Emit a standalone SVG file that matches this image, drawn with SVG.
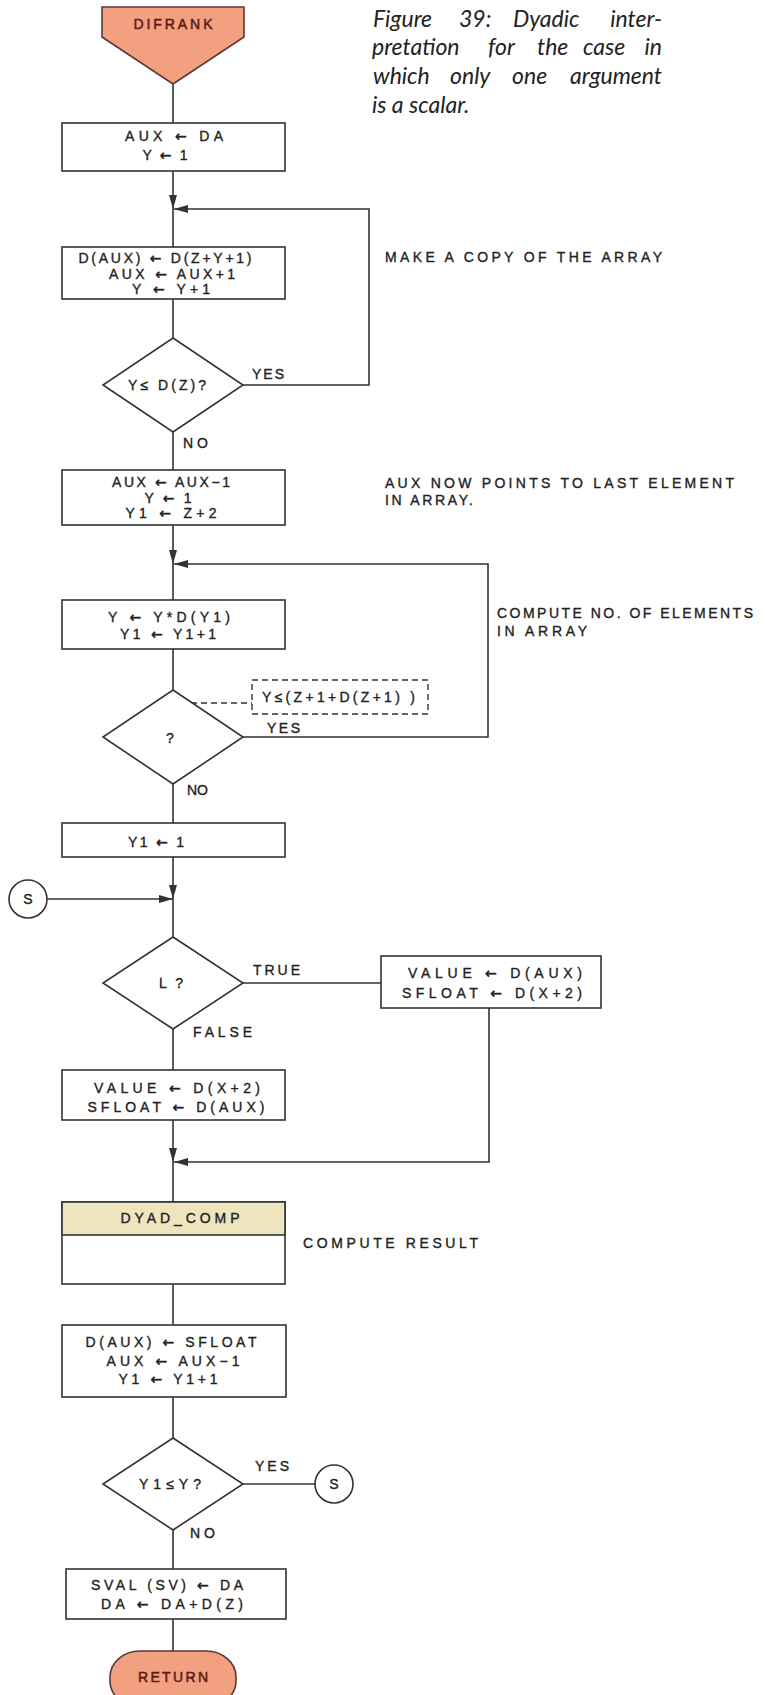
<svg xmlns="http://www.w3.org/2000/svg" width="765" height="1695" viewBox="0 0 765 1695">
<style>
.bg{fill:#ffffff}
.box{fill:#ffffff;stroke:#333;stroke-width:1.6}
.term{fill:#f3a080;stroke:#5a3a30;stroke-width:1.6}
.band{fill:#eee5bd;stroke:#333;stroke-width:1.6}
.ln{fill:none;stroke:#333;stroke-width:1.6}
.dash{fill:none;stroke:#333;stroke-width:1.4;stroke-dasharray:6 4}
.t{font-family:"Liberation Sans",Arial,sans-serif;font-size:14px;fill:#222;stroke:#222;stroke-width:0.35;text-anchor:middle}
.tl{font-family:"Liberation Sans",Arial,sans-serif;font-size:14px;fill:#222;stroke:#222;stroke-width:0.35;text-anchor:start}
.tt{font-family:"Liberation Sans",Arial,sans-serif;font-size:14px;fill:#5a1c16;stroke:#5a1c16;stroke-width:0.5;text-anchor:middle}
.ar{font-family:"DejaVu Sans",sans-serif;font-weight:bold}
.cap{font-family:Lato,"Open Sans",sans-serif;font-style:italic;font-size:23px;fill:#222}
</style>
<defs>
<marker id="ah" viewBox="0 0 14 8" refX="14" refY="4" markerWidth="14" markerHeight="8" markerUnits="userSpaceOnUse" orient="auto">
<path d="M0,0 L14,4 L0,8 z" fill="#333"/>
</marker>
</defs>
<rect class="bg" x="0" y="0" width="765" height="1695"/>

<g id="caption">
<text class="cap" y="27"><tspan x="373">Figure</tspan><tspan x="459">39:</tspan><tspan x="513">Dyadic</tspan><tspan x="662" text-anchor="end">inter-</tspan></text>
<text class="cap" y="55"><tspan x="372">pretation</tspan><tspan x="488">for</tspan><tspan x="537">the</tspan><tspan x="583">case</tspan><tspan x="662" text-anchor="end">in</tspan></text>
<text class="cap" y="84"><tspan x="373">which</tspan><tspan x="450">only</tspan><tspan x="512">one</tspan><tspan x="662" text-anchor="end">argument</tspan></text>
<text class="cap" y="113" x="372">is a scalar.</text>
</g>

<g id="connectors">
<path class="ln" d="M173,82 V123"/>
<path class="ln" d="M173,171 V209" marker-end="url(#ah)"/>
<path class="ln" d="M243,385 H369 V209 H174" marker-end="url(#ah)"/>
<path class="ln" d="M173,209 V247"/>
<path class="ln" d="M173,299 V338"/>
<path class="ln" d="M173,432 V470"/>
<path class="ln" d="M173,525 V564" marker-end="url(#ah)"/>
<path class="ln" d="M243,737 H488 V564 H174" marker-end="url(#ah)"/>
<path class="ln" d="M173,564 V600"/>
<path class="ln" d="M173,649 V690"/>
<path class="dash" d="M191,703 H252"/>
<path class="ln" d="M173,784 V823"/>
<path class="ln" d="M173,857 V899" marker-end="url(#ah)"/>
<path class="ln" d="M47,899 H173" marker-end="url(#ah)"/>
<path class="ln" d="M173,899 V937"/>
<path class="ln" d="M243,983 H381"/>
<path class="ln" d="M489,1008 V1162 H174" marker-end="url(#ah)"/>
<path class="ln" d="M173,1029 V1070"/>
<path class="ln" d="M173,1120 V1162" marker-end="url(#ah)"/>
<path class="ln" d="M173,1162 V1202"/>
<path class="ln" d="M173,1284 V1325"/>
<path class="ln" d="M173,1397 V1438"/>
<path class="ln" d="M243,1484 H315"/>
<path class="ln" d="M173,1530 V1569"/>
<path class="ln" d="M173,1619 V1651"/>
</g>

<g id="difrank">
<polygon class="term" points="102,7 244,7 244,37 173,84 102,37"/>
<text class="tt" x="173" y="29" textLength="79" lengthAdjust="spacing">DIFRANK</text>
</g>

<g id="init">
<rect class="box" x="62" y="123" width="223" height="48"/>
<text class="t" x="174" y="141" textLength="98" lengthAdjust="spacing">AUX <tspan class="ar">←</tspan> DA</text>
<text class="t" x="165" y="160" textLength="45" lengthAdjust="spacing">Y <tspan class="ar">←</tspan> 1</text>
</g>

<g id="copy">
<rect class="box" x="62" y="247" width="223" height="52"/>
<text class="t" x="165" y="263" textLength="173" lengthAdjust="spacing">D(AUX) <tspan class="ar">←</tspan> D(Z+Y+1)</text>
<text class="t" x="172" y="279" textLength="126" lengthAdjust="spacing">AUX <tspan class="ar">←</tspan> AUX+1</text>
<text class="t" x="171" y="294" textLength="78" lengthAdjust="spacing">Y <tspan class="ar">←</tspan> Y+1</text>
</g>

<g id="note-copy">
<text class="tl" x="385" y="262" textLength="277" lengthAdjust="spacing">MAKE A COPY OF THE ARRAY</text>
</g>

<g id="test1">
<polygon class="box" points="173,338 243,385 173,432 103,385"/>
<text class="t" x="167" y="390" textLength="78" lengthAdjust="spacing">Y≤ D(Z)?</text>
<text class="tl" x="252" y="379" textLength="32" lengthAdjust="spacing">YES</text>
<text class="tl" x="183" y="448" textLength="25" lengthAdjust="spacing">NO</text>
</g>

<g id="last">
<rect class="box" x="62" y="470" width="223" height="55"/>
<text class="t" x="171" y="487" textLength="118" lengthAdjust="spacing">AUX <tspan class="ar">←</tspan> AUX−1</text>
<text class="t" x="168" y="503" textLength="47" lengthAdjust="spacing">Y <tspan class="ar">←</tspan> 1</text>
<text class="t" x="171" y="518" textLength="91" lengthAdjust="spacing">Y1 <tspan class="ar">←</tspan> Z+2</text>
</g>

<g id="note-last">
<text class="tl" x="385" y="488" textLength="349" lengthAdjust="spacing">AUX NOW POINTS TO LAST ELEMENT</text>
<text class="tl" x="385" y="505" textLength="88" lengthAdjust="spacing">IN ARRAY.</text>
</g>

<g id="count">
<rect class="box" x="62" y="600" width="223" height="49"/>
<text class="t" x="169" y="622" textLength="122" lengthAdjust="spacing">Y <tspan class="ar">←</tspan> Y*D(Y1)</text>
<text class="t" x="168" y="639" textLength="96" lengthAdjust="spacing">Y1 <tspan class="ar">←</tspan> Y1+1</text>
</g>

<g id="note-count">
<text class="tl" x="497" y="618" textLength="256" lengthAdjust="spacing">COMPUTE NO. OF ELEMENTS</text>
<text class="tl" x="497" y="636" textLength="90" lengthAdjust="spacing">IN ARRAY</text>
</g>

<g id="test2">
<polygon class="box" points="173,690 243,737 173,784 103,737"/>
<text class="t" x="170" y="743">?</text>
<text class="tl" x="267" y="733" textLength="33" lengthAdjust="spacing">YES</text>
<text class="tl" x="187" y="795" textLength="21" lengthAdjust="spacing">NO</text>
</g>

<g id="cond">
<rect class="dash" x="252" y="680" width="176" height="34"/>
<text class="tl" x="262" y="702" textLength="153" lengthAdjust="spacing">Y≤(Z+1+D(Z+1) )</text>
</g>

<g id="reset">
<rect class="box" x="62" y="823" width="223" height="34"/>
<text class="t" x="156" y="847" textLength="56" lengthAdjust="spacing">Y1 <tspan class="ar">←</tspan> 1</text>
</g>

<g id="s-in">
<circle class="box" cx="28" cy="899" r="19"/>
<text class="t" x="28" y="904">S</text>
</g>

<g id="test3">
<polygon class="box" points="173,937 243,983 173,1029 103,983"/>
<text class="t" x="171" y="988" textLength="24" lengthAdjust="spacing">L?</text>
<text class="tl" x="253" y="975" textLength="47" lengthAdjust="spacing">TRUE</text>
<text class="tl" x="193" y="1037" textLength="59" lengthAdjust="spacing">FALSE</text>
</g>

<g id="true-box">
<rect class="box" x="381" y="956" width="220" height="52"/>
<text class="t" x="495" y="978" textLength="174" lengthAdjust="spacing">VALUE <tspan class="ar">←</tspan> D(AUX)</text>
<text class="t" x="492" y="998" textLength="180" lengthAdjust="spacing">SFLOAT <tspan class="ar">←</tspan> D(X+2)</text>
</g>

<g id="false-box">
<rect class="box" x="62" y="1070" width="223" height="50"/>
<text class="t" x="177" y="1093" textLength="166" lengthAdjust="spacing">VALUE <tspan class="ar">←</tspan> D(X+2)</text>
<text class="t" x="176" y="1112" textLength="177" lengthAdjust="spacing">SFLOAT <tspan class="ar">←</tspan> D(AUX)</text>
</g>

<g id="dyad">
<rect class="box" x="62" y="1202" width="223" height="82"/>
<rect class="band" x="62" y="1202" width="223" height="33"/>
<text class="t" x="180" y="1223" textLength="119" lengthAdjust="spacing">DYAD_COMP</text>
</g>

<g id="note-dyad">
<text class="tl" x="303" y="1248" textLength="175" lengthAdjust="spacing">COMPUTE RESULT</text>
</g>

<g id="store">
<rect class="box" x="62" y="1325" width="224" height="72"/>
<text class="t" x="171" y="1347" textLength="171" lengthAdjust="spacing">D(AUX) <tspan class="ar">←</tspan> SFLOAT</text>
<text class="t" x="173" y="1366" textLength="133" lengthAdjust="spacing">AUX <tspan class="ar">←</tspan> AUX−1</text>
<text class="t" x="168" y="1384" textLength="99" lengthAdjust="spacing">Y1 <tspan class="ar">←</tspan> Y1+1</text>
</g>

<g id="test4">
<polygon class="box" points="173,1438 243,1484 173,1530 103,1484"/>
<text class="t" x="170" y="1489" textLength="62" lengthAdjust="spacing">Y1≤Y?</text>
<text class="tl" x="255" y="1471" textLength="34" lengthAdjust="spacing">YES</text>
<text class="tl" x="190" y="1538" textLength="25" lengthAdjust="spacing">NO</text>
</g>

<g id="s-out">
<circle class="box" cx="334" cy="1484" r="19"/>
<text class="t" x="334" y="1489">S</text>
</g>

<g id="final">
<rect class="box" x="66" y="1569" width="220" height="50"/>
<text class="t" x="167" y="1590" textLength="152" lengthAdjust="spacing">SVAL (SV) <tspan class="ar">←</tspan> DA</text>
<text class="t" x="172" y="1609" textLength="142" lengthAdjust="spacing">DA <tspan class="ar">←</tspan> DA+D(Z)</text>
</g>

<g id="return">
<rect class="term" x="110" y="1651" width="126" height="56" rx="30" ry="26"/>
<text class="tt" x="173" y="1682" textLength="70" lengthAdjust="spacing">RETURN</text>
</g>
</svg>
